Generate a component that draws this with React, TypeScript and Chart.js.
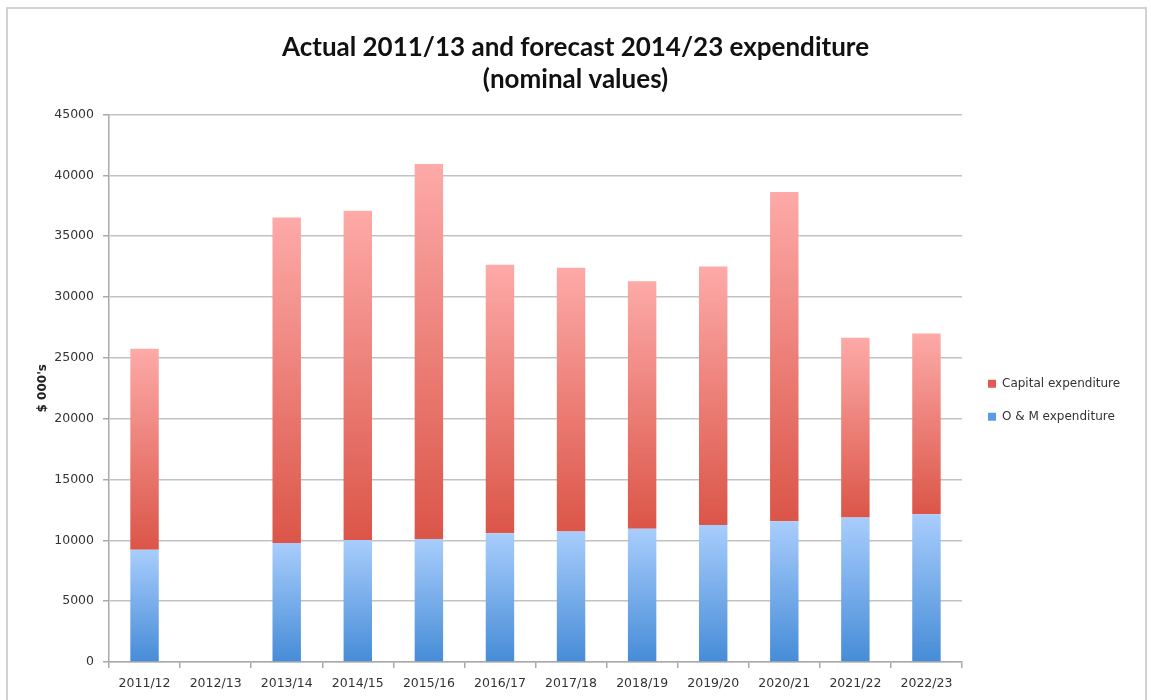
import React, { useEffect, useRef } from "react";
import { Chart, registerables } from "chart.js";

Chart.register(...registerables);

const categories = [
  "2011/12", "2012/13", "2013/14", "2014/15", "2015/16", "2016/17",
  "2017/18", "2018/19", "2019/20", "2020/21", "2021/22", "2022/23",
];
const omValues: (number | null)[] = [
  9230, null, 9780, 10020, 10100, 10580, 10720, 10960, 11270, 11570, 11870, 12140,
];
const capitalValues: (number | null)[] = [
  16510, null, 26760, 27070, 30840, 22060, 21690, 20330, 21230, 27050, 14780, 14860,
];
const titleLines = ["Actual 2011/13 and forecast 2014/23 expenditure", "(nominal values)"];
const yAxisTitle = "$ 000's";
const yMin = 0;
const yMax = 45000;
const yStep = 5000;

const omSolid = "#5b9be2";
const capitalSolid = "#e05a50";

function gradientFill(
  values: (number | null)[],
  bases: (number | null)[] | null,
  bottomColor: string,
  topColor: string,
  solid: string
) {
  return (ctx: any) => {
    if (ctx.type !== "data") return solid;
    const chart = ctx.chart;
    const y = chart.scales && chart.scales.y;
    const i = ctx.dataIndex;
    const v = values[i];
    if (!y || v == null) return solid;
    const start = bases ? (bases[i] || 0) : 0;
    const y0 = y.getPixelForValue(start);
    const y1 = y.getPixelForValue(start + v);
    if (!isFinite(y0) || !isFinite(y1) || y0 === y1) return solid;
    const g = chart.ctx.createLinearGradient(0, y0, 0, y1);
    g.addColorStop(0, bottomColor);
    g.addColorStop(1, topColor);
    return g;
  };
}

const legendPlacer = {
  id: "legendPlacer",
  beforeLayout(chart: any) {
    const lg = chart.legend;
    if (lg && !lg._patched) {
      const f = lg.fit;
      lg.fit = function () {
        f.call(this);
        this.width = 189;
      };
      lg._patched = true;
    }
  },
  afterLayout(chart: any) {
    const lg = chart.legend;
    if (lg) {
      lg.left += 5;
      lg.right += 5;
      lg.top += 12;
      lg.bottom += 12;
    }
  },
};

export default function App() {
  const canvasRef = useRef<HTMLCanvasElement | null>(null);

  useEffect(() => {
    if (!canvasRef.current) return;
    const solids = [omSolid, capitalSolid];
    const chart = new Chart(canvasRef.current, {
      type: "bar",
      data: {
        labels: categories,
        datasets: [
          {
            label: "O & M expenditure",
            data: omValues,
            backgroundColor: gradientFill(omValues, null, "#468cd7", "#a8cdfc", omSolid),
            borderWidth: 0,
            categoryPercentage: 1,
            barPercentage: 0.4,
          },
          {
            label: "Capital expenditure",
            data: capitalValues,
            backgroundColor: gradientFill(capitalValues, omValues, "#db5548", "#fdaaa8", capitalSolid),
            borderWidth: 0,
            categoryPercentage: 1,
            barPercentage: 0.4,
          },
        ],
      },
      options: {
        responsive: false,
        animation: false,
        layout: { padding: 0 },
        plugins: {
          title: {
            display: true,
            text: titleLines,
            color: "#111111",
            font: { family: "Lato", size: 26, weight: "bold", lineHeight: 1.24 },
            padding: { top: 31, bottom: 19 },
          },
          legend: {
            display: true,
            position: "right",
            fullSize: false,
            reverse: true,
            align: "center",
            labels: {
              boxWidth: 8,
              boxHeight: 8,
              padding: 21,
              color: "#333333",
              font: { family: "DejaVu Sans", size: 12 },
              generateLabels(c: any) {
                const items = (Chart.defaults as any).plugins.legend.labels.generateLabels(c);
                items.forEach((it: any) => {
                  it.fillStyle = solids[it.datasetIndex];
                  it.strokeStyle = solids[it.datasetIndex];
                  it.lineWidth = 0;
                });
                return items;
              },
            },
          },
          tooltip: { enabled: false },
        },
        scales: {
          x: {
            stacked: true,
            offset: true,
            afterFit(scale: any) {
              scale.height = 38;
            },
            grid: {
              display: true,
              offset: true,
              drawOnChartArea: false,
              drawTicks: true,
              tickLength: 6,
              tickColor: "#aaaaaa",
              lineWidth: 1.5,
            },
            border: { display: true, color: "#aaaaaa", width: 1.5 },
            ticks: {
              color: "#333333",
              padding: 8,
              maxRotation: 0,
              autoSkip: false,
              font: { family: "DejaVu Sans", size: 12.5 },
            },
          },
          y: {
            stacked: true,
            min: yMin,
            max: yMax,
            afterFit(scale: any) {
              scale.width = 109;
            },
            grid: {
              color: "#c2c2c2",
              lineWidth: 1.5,
              drawTicks: true,
              tickLength: 6,
              tickColor: "#aaaaaa",
            },
            border: { display: true, color: "#aaaaaa", width: 1.5 },
            ticks: {
              stepSize: yStep,
              color: "#333333",
              padding: 9,
              font: { family: "DejaVu Sans", size: 12.5 },
              callback: (v: any) => String(v),
            },
            title: {
              display: true,
              text: yAxisTitle,
              color: "#222222",
              font: { family: "DejaVu Sans", size: 12, weight: "bold" },
              padding: { top: 36, bottom: 0 },
            },
          },
        },
      },
      plugins: [legendPlacer],
    } as any);
    return () => chart.destroy();
  }, []);

  return (
    <div style={{ position: "absolute", left: 0, top: 0, width: 1151, height: 700, overflow: "hidden", background: "#ffffff" }}>
      <div
        style={{
          position: "absolute",
          left: 6,
          top: 7,
          width: 1137,
          height: 760,
          borderLeft: "2px solid #d2d2d2",
          borderTop: "2px solid #d2d2d2",
          borderRight: "2px solid #d2d2d2",
        }}
      />
      <canvas
        ref={canvasRef}
        width={1151}
        height={700}
        style={{ position: "absolute", left: 0, top: 0, width: 1151, height: 700 }}
      />
    </div>
  );
}
